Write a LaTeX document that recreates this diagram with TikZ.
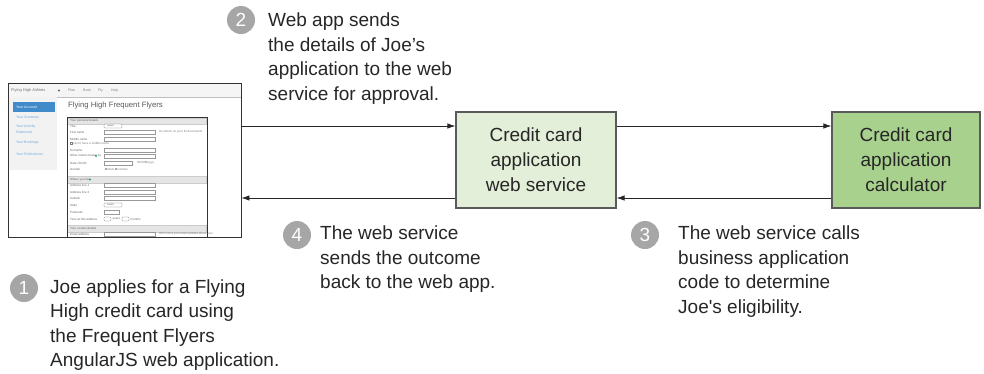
\documentclass[tikz,border=0pt]{standalone}
\usepackage{fontspec}
\setmainfont{Liberation Sans}
\usetikzlibrary{arrows.meta,positioning}
\definecolor{numgray}{HTML}{A6A6A6}
\definecolor{textdark}{HTML}{262626}
\definecolor{boxedge}{HTML}{5A5A5A}
\definecolor{webfill}{HTML}{E3EFD9}
\definecolor{calcfill}{HTML}{A9D18E}
\definecolor{btnblue}{HTML}{428BCA}
\definecolor{linkblue}{HTML}{6FA8DC}
\definecolor{tealdot}{HTML}{2A9D8F}

\begin{document}
\begin{tikzpicture}[
  >={Latex[length=8pt,width=5.5pt]}, x=1pt, y=-1pt,
  num/.style={circle,fill=numgray,text=white,minimum size=28pt,inner sep=0pt,
    font=\fontsize{19}{19}\selectfont},
  note/.style={anchor=north west,align=left,inner sep=0pt,text=textdark,
    font=\fontsize{19}{24.4}\selectfont},
  svc/.style={draw=boxedge,line width=1.2pt,minimum height=96pt,inner sep=0pt,
    align=center,text=textdark,font=\fontsize{19}{25}\selectfont},
  flow/.style={->,draw=black!85,line width=0.8pt},
  tiny/.style={anchor=west,inner sep=0pt,text=black!60,font=\fontsize{3}{3}\selectfont},
  field/.style={draw=black!40,line width=0.3pt,fill=white},
  bar/.style={fill=black!10,draw=black!20,line width=0.3pt}]
\useasboundingbox (0,0) rectangle (984,373);

% web app screenshot
\fill[black!4] (8,83) rectangle (241,97);
\draw[black!25,line width=0.4pt] (8,97) -- (241,97);
\node[tiny,text=black!55,font=\fontsize{4}{4}\selectfont] (brand) at (11,90.5) {Flying High Airlines};
\fill[black!60] (59,90.5) circle (1.1);
\foreach \x/\item in {68/Plan,83/Book,98/Fly,111/Help}
  \node[tiny,text=black!50,font=\fontsize{3.5}{3.5}\selectfont] at (\x,90.5) {\item};
\fill[black!5] (8.5,97) rectangle (57,170);
\fill[btnblue] (13,102) rectangle (55,112);
\node[tiny,text=white,font=\fontsize{3.5}{3.5}\selectfont] (acct) at (16,107) {Your Account};
\foreach \y/\item in {117.5/Your Summary,127/Your Activity,132/Statement,143/Your Bookings,154/Your Preferences}
  \node[tiny,text=linkblue,font=\fontsize{3.5}{3.5}\selectfont] at (16,\y) {\item};
\node[anchor=west,inner sep=0pt,text=black!65,font=\fontsize{7.7}{8}\selectfont] (title) at (68,106) {Flying High Frequent Flyers};

% form
\fill[white] (67,117) rectangle (207,238);
\draw[bar] (67.5,118) rectangle (206.5,124);
\node[tiny] at (70,121) {Your personal details};
\draw[bar] (67.5,176) rectangle (206.5,183);
\node[tiny] at (70,179.5) {Where you live};
\fill[tealdot] (90,179.5) circle (1.2);
\draw[bar] (67.5,225) rectangle (206.5,232);
\node[tiny] at (70,228.5) {Your contact details};
\foreach \y/\item in {132/First name,139/Middle name,150/Surname,156/Other names known by,
    185/Address line 1,192/Address line 2,198/Suburb,234/Email address}{
  \node[tiny] at (70,\y) {\item};
  \draw[field] (104,\y-1.8) rectangle (155,\y+1.8);
}
\fill[tealdot] (96,156) circle (1.2);
\draw[field,draw=black!50] (70,142.5) rectangle (71.8,144.3);
\node[tiny,text=black!50] at (72.8,143.5) {I don't have a middle name};
\node[tiny,text=black!50] at (159,132) {As shown on your ID documents};
\node[tiny,text=black!50] at (159,234) {We'll send you email updates about your};
\foreach \y/\item in {126/Title,205/State}{
  \node[tiny] at (70,\y) {\item};
  \draw[field,draw=black!55,rounded corners=1pt] (104,\y-2) rectangle (122,\y+2);
  \node[tiny,font=\fontsize{2.5}{2.5}\selectfont] at (107,\y) {Select};
}
\node[tiny] at (70,163) {Date of birth};
\draw[field] (104,161.2) rectangle (132,164.8);
\node[tiny,text=black!50] at (137,163) {DD/MM/yyyy};
\node[tiny] at (70,169) {Gender};
\draw[field,draw=black!50] (106,169) circle (0.9);
\node[tiny,text=black!50] at (107.5,169) {Male};
\draw[field,draw=black!50] (116,169) circle (0.9);
\node[tiny,text=black!50] at (117.5,169) {Female};
\node[tiny] at (70,212) {Postcode};
\draw[field] (104,210.2) rectangle (119,213.8);
\node[tiny] at (70,219) {Time at this address};
\draw[field,draw=black!55,rounded corners=1pt] (104,217) rectangle (111,221);
\node[tiny] at (112.5,219) {years};
\draw[field,draw=black!55,rounded corners=1pt] (122,217) rectangle (129,221);
\node[tiny] at (130.5,219) {months};
\draw[black!80,line width=0.8pt] (67,238) |- (207,117) -- (207,238);
\node[draw=black!80,line width=0.9pt,minimum width=233pt,minimum height=154pt,inner sep=0pt]
  (shot) at (124.5,160) {};

% services
\node[svc,fill=webfill,minimum width=160pt] (web) at (536,160)
  {Credit card\\application\\web service};
\node[svc,fill=calcfill,minimum width=148pt] (calc) at (906,160)
  {Credit card\\application\\calculator};

\draw[flow] ([yshift=34pt]shot.east) -- ([yshift=34pt]web.west);
\draw[flow] ([yshift=-38pt]web.west) -- ([yshift=-38pt]shot.east);
\draw[flow] ([yshift=34pt]web.east) -- ([yshift=34pt]calc.west);
\draw[flow] ([yshift=-38pt]calc.west) -- ([yshift=-38pt]web.east);

% numbered notes
\node[num] (n1) at (24,288) {1};
\node[note] (t1) at (50,279.5) {Joe applies for a Flying\\High credit card using\\the Frequent Flyers\\AngularJS web application.};
\node[num] (n2) at (241,20) {2};
\node[note] (t2) at (268,13) {Web app sends\\the details of Joe’s\\application to the web\\service for approval.};
\node[num] (n3) at (645,235) {3};
\node[note] (t3) at (678,226) {The web service calls\\business application\\code to determine\\Joe\textquotesingle s eligibility.};
\node[num] (n4) at (297,235) {4};
\node[note] (t4) at (320,226) {The web service\\sends the outcome\\back to the web app.};
\end{tikzpicture}
\end{document}
